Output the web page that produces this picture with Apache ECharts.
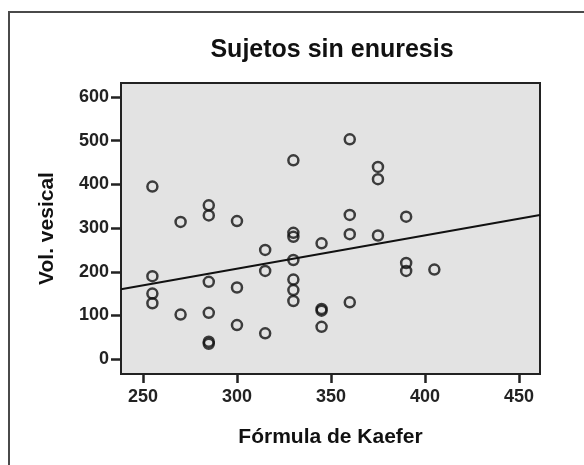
<!DOCTYPE html>
<html>
<head>
<meta charset="utf-8">
<script src="https://cdn.jsdelivr.net/npm/echarts@6/dist/echarts.min.js"></script>
<style>
    body {
        margin: 0;
        background: #fff;
    }
    #scatter_chart {
        width: 584px;
        height: 465px;
    }
</style>
</head>
<body>
<div id="scatter_chart"></div>
<script>
// valores (x: formula de Kaefer, y: vol. vesical)
const kaefer = [
    255, 255, 255, 255,
    270, 270,
    285, 285, 285, 285, 285, 285,
    300, 300, 300,
    315, 315, 315,
    330, 330, 330, 330, 330, 330, 330,
    345, 345, 345, 345,
    360, 360, 360, 360,
    375, 375, 375,
    390, 390, 390,
    405,
];
const vol_vesical = [
    395, 190, 150, 128,
    314, 102,
    352, 329, 177, 106, 40, 35,
    316, 164, 78,
    250, 202, 59,
    455, 289, 280, 227, 182, 158, 133,
    265, 115, 111, 74,
    503, 330, 286, 130,
    440, 412, 283,
    326, 220, 202,
    205,
];
// recta de ajuste (extremos en los limites del eje)
const fit_x = [238.3, 461.2];
const fit_y = [160, 330];

const x_ticks = [250, 300, 350, 400, 450];
const y_ticks = [0, 100, 200, 300, 400, 500, 600];

const points = kaefer.map((x, i) => [x, vol_vesical[i]]);
const fit_line = fit_x.map((x, i) => [x, fit_y[i]]);

const font = "'Liberation Sans', Arial, sans-serif";

let chart = echarts.init(document.getElementById("scatter_chart"));
chart.setOption({
    animation: false,
    graphic: [
        {
            type: "polyline",
            shape: {
                points: [[9, 470], [9, 12], [590, 12]],
            },
            style: {
                fill: null,
                stroke: "#4a4a4a",
                lineWidth: 2,
            },
        },
    ],
    title: {
        text: "Sujetos sin enuresis",
        left: 327,
        top: 33,
        textAlign: "center",
        textStyle: {
            color: "#111",
            fontFamily: font,
            fontWeight: "bold",
            fontSize: 25,
        },
    },
    grid: {
        left: 121,
        top: 83,
        right: 44,
        bottom: 91,
        show: true,
        backgroundColor: "#e3e3e3",
        borderColor: "#222",
        borderWidth: 2,
    },
    xAxis: {
        type: "value",
        min: fit_x[0],
        max: fit_x[1],
        name: "Fórmula de Kaefer",
        nameLocation: "middle",
        nameGap: 53,
        nameTextStyle: {
            color: "#111",
            fontFamily: font,
            fontWeight: "bold",
            fontSize: 21,
        },
        splitLine: { show: false },
        axisLine: {
            show: true,
            onZero: false,
            lineStyle: { color: "#222", width: 2 },
        },
        axisTick: {
            show: true,
            inside: false,
            length: 9,
            customValues: x_ticks,
            lineStyle: { color: "#222", width: 2.5 },
        },
        axisLabel: {
            customValues: x_ticks,
            margin: 14,
            color: "#222",
            fontFamily: font,
            fontWeight: "bold",
            fontSize: 18,
        },
    },
    yAxis: {
        type: "value",
        min: -34,
        max: 632,
        name: "Vol. vesical",
        nameLocation: "middle",
        nameGap: 63,
        nameTextStyle: {
            color: "#111",
            fontFamily: font,
            fontWeight: "bold",
            fontSize: 21,
        },
        splitLine: { show: false },
        axisLine: {
            show: true,
            onZero: false,
            lineStyle: { color: "#222", width: 2 },
        },
        axisTick: {
            show: true,
            inside: false,
            length: 10,
            customValues: y_ticks,
            lineStyle: { color: "#222", width: 2.5 },
        },
        axisLabel: {
            customValues: y_ticks,
            margin: 12,
            color: "#222",
            fontFamily: font,
            fontWeight: "bold",
            fontSize: 18,
        },
    },
    series: [
        {
            type: "scatter",
            data: points,
            symbol: "circle",
            symbolSize: 10,
            itemStyle: {
                color: "rgba(0,0,0,0)",
                borderColor: "#111",
                borderWidth: 2.5,
            },
        },
        {
            type: "line",
            data: fit_line,
            showSymbol: false,
            symbol: "none",
            lineStyle: { color: "#111", width: 2 },
        },
    ],
});
</script>
</body>
</html>
